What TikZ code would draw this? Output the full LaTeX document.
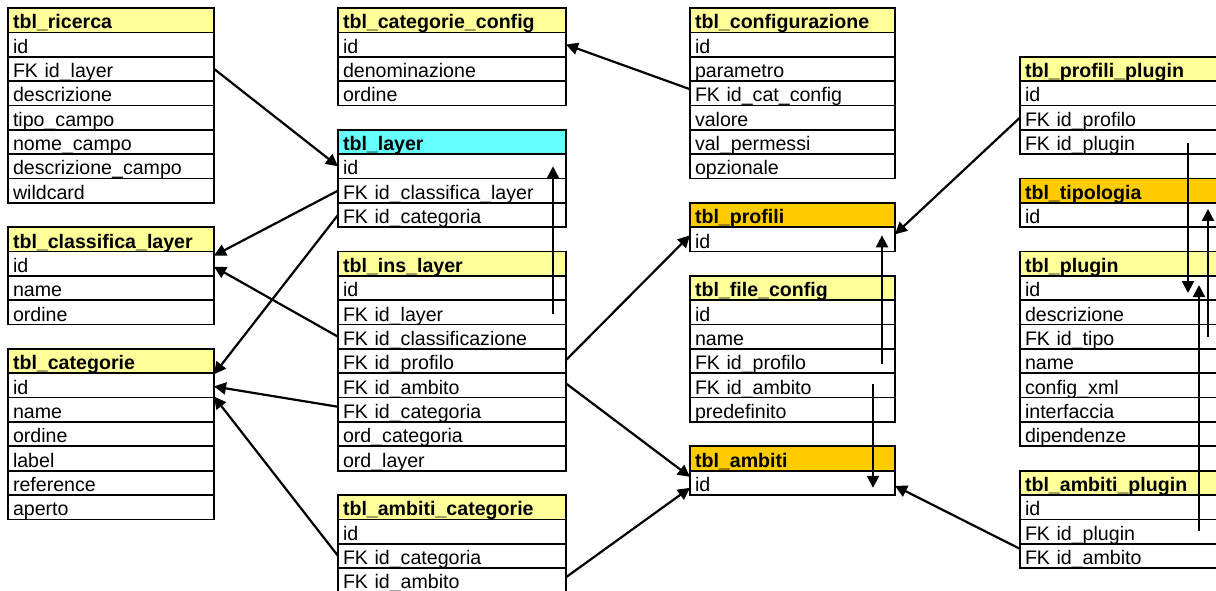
\documentclass[tikz,border=0pt]{standalone}
\usepackage{fontspec}
\setmainfont{Liberation Sans}
\usetikzlibrary{arrows.meta,calc}
\definecolor{hyellow}{HTML}{FFFF99}
\definecolor{horange}{HTML}{FFCC00}
\definecolor{hcyan}{HTML}{66FFFF}
\newcommand\dbfs{\fontsize{9.8pt}{11pt}\selectfont}
\tikzset{
  cell/.style={draw=black, line width=0.85pt, anchor=north west, inner xsep=2.5pt,
    inner ysep=0pt, outer sep=0pt, minimum height=12.175pt, text height=10.425pt,
    text depth=1.75pt, align=left, font=\dbfs, fill=white},
  hdr/.style={cell, font=\dbfs\bfseries},
  fk/.style={-{Triangle[length=6pt,width=6pt]}, line width=1.1pt, draw=black},
}
% #1 name, #2 x (px), #3 grid row, #4 width (px), #5 header colour, #6 title, #7 rows
\newcommand\dbtable[7]{%
  \pgfmathsetlengthmacro\dbtw{(#4-10)*0.5pt}%
  \pgfmathsetmacro\dbyy{8+(#3)*24.35}%
  \node[hdr, fill=#5, text width=\dbtw] (#1-0) at (#2,\dbyy) {#6};
  \foreach \r [count=\i] in {#7} {
    \pgfmathsetmacro\dbyy{8+(#3+\i)*24.35}
    \node[cell, text width=\dbtw] (#1-\i) at (#2,\dbyy) {\r};
  }
}
\begin{document}
\begin{tikzpicture}[x=0.5pt,y=-0.5pt]
\useasboundingbox (0,0) rectangle (1216,590);
\fill[white] (0,0) rectangle (1216,590);
\clip (0,0) rectangle (1216,590);

\dbtable{ricerca}{8}{0}{206}{hyellow}{tbl\_ricerca}{id,FK id\_layer,descrizione,tipo\_campo,nome\_campo,descrizione\_campo,wildcard}
\dbtable{classlayer}{8}{9}{206}{hyellow}{tbl\_classifica\_layer}{id,name,ordine}
\dbtable{categorie}{8}{14}{206}{hyellow}{tbl\_categorie}{id,name,ordine,label,reference,aperto}
\dbtable{catconfig}{338}{0}{228}{hyellow}{tbl\_categorie\_config}{id,denominazione,ordine}
\dbtable{layer}{338}{5}{228}{hcyan}{tbl\_layer}{id,FK id\_classifica\_layer,FK id\_categoria}
\dbtable{inslayer}{338}{10}{228}{hyellow}{tbl\_ins\_layer}{id,FK id\_layer,FK id\_classificazione,FK id\_profilo,FK id\_ambito,FK id\_categoria,ord\_categoria,ord\_layer}
\dbtable{ambiticat}{338}{20}{228}{hyellow}{tbl\_ambiti\_categorie}{id,FK id\_categoria,FK id\_ambito}
\dbtable{config}{690}{0}{205}{hyellow}{tbl\_configurazione}{id,parametro,FK id\_cat\_config,valore,val\_permessi,opzionale}
\dbtable{profili}{690}{8}{205}{horange}{tbl\_profili}{id}
\dbtable{fileconfig}{690}{11}{205}{hyellow}{tbl\_file\_config}{id,name,FK id\_profilo,FK id\_ambito,predefinito}
\dbtable{ambiti}{690}{18}{205}{horange}{tbl\_ambiti}{id}
\dbtable{profiliplugin}{1020}{2}{228}{hyellow}{tbl\_profili\_plugin}{id,FK id\_profilo,FK id\_plugin}
\dbtable{tipologia}{1020}{7}{228}{horange}{tbl\_tipologia}{id}
\dbtable{plugin}{1020}{10}{228}{hyellow}{tbl\_plugin}{id,descrizione,FK id\_tipo,name,config\_xml,interfaccia,dipendenze}
\dbtable{ambitiplugin}{1020}{19}{228}{hyellow}{tbl\_ambiti\_plugin}{id,FK id\_plugin,FK id\_ambito}

% connectors
\draw[fk] (ricerca-2.east) -- (layer-1.west);
\draw[fk] ($(config-3.west)+(0,-4)$) -- (catconfig-1.east);
\draw[fk] (layer-2.west) -- ($(classlayer-1.east)+(0,-8)$);
\draw[fk] (layer-3.west) -- ($(categorie-1.north east)+(0,1)$);
\draw[fk] (inslayer-3.west) -- ($(classlayer-1.east)+(0,3)$);
\draw[fk] ($(inslayer-6.west)+(0,-3)$) -- ($(categorie-1.east)+(0,1)$);
\draw[fk] (ambiticat-2.west) -- ($(categorie-1.south east)+(0,-1)$);
\draw[fk] ($(inslayer-2.east)+(-13,2)$) -- ($(layer-1.east)+(-13,0)$);
\draw[fk] ($(inslayer-4.east)+(0,-1)$) -- ($(profili-1.west)+(0,-4)$);
\draw[fk] ($(inslayer-5.east)+(0,-2)$) -- ($(ambiti-1.west)+(0,-6)$);
\draw[fk] ($(ambiticat-3.east)+(0,-3)$) -- ($(ambiti-1.west)+(0,5)$);
\draw[fk] (profiliplugin-2.west) -- ($(profili-1.east)+(0,-5)$);
\draw[fk] ($(fileconfig-3.east)+(-13,3)$) -- ($(profili-1.east)+(-13,-4)$);
\draw[fk] ($(fileconfig-4.east)+(-22,-1)$) -- ($(ambiti-1.east)+(-22,5)$);
\draw[fk] ($(ambitiplugin-3.west)+(0,-7)$) -- ($(ambiti-1.east)+(0,3)$);
\draw[fk] ($(profiliplugin-3.west)+(168,1)$) -- ($(plugin-1.west)+(168,5)$);
\draw[fk] ($(ambitiplugin-2.west)+(179,-1)$) -- ($(plugin-1.west)+(179,-3)$);
\draw[fk] ($(plugin-3.west)+(188,0)$) -- ($(tipologia-1.west)+(188,-6)$);
\end{tikzpicture}
\end{document}
